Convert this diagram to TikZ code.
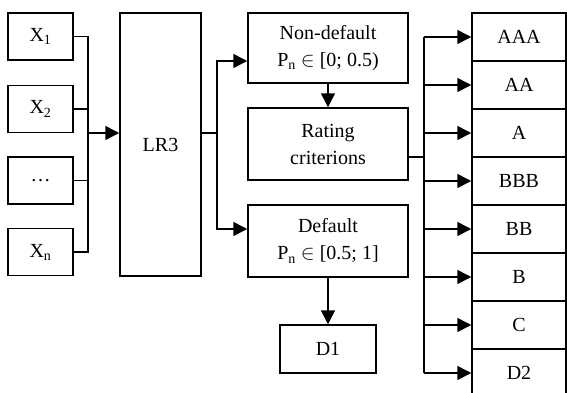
\documentclass[tikz,border=0pt]{standalone}
\usepackage{fontspec}
\setmainfont{Liberation Serif}
\usetikzlibrary{arrows.meta}
\begin{document}
\begin{tikzpicture}[x=1pt,y=-1pt,line width=1.5pt,
  font=\fontsize{20}{27}\selectfont]
	\tikzstyle{c} = [draw, shape=rectangle, anchor=center, inner sep=0pt, align=center]
	\tikzstyle{arr} = [-{Triangle[length=14pt,width=14pt]}]
  \clip (0,0) rectangle (567,392);
  % Eingaben
  \node[c, minimum width=65pt, minimum height=47pt] (x1) at (40.5,36.5) {X\textsubscript{1}};
  \node[c, minimum width=65pt, minimum height=47pt] (x2) at (40.5,109) {X\textsubscript{2}};
  \node[c, minimum width=65pt, minimum height=47pt] (xd) at (40.5,180.5) {\ldots};
  \node[c, minimum width=65pt, minimum height=47pt] (xn) at (40.5,252) {X\textsubscript{n}};
  \node[c, minimum width=81pt, minimum height=263pt] (lr3) at (160.5,144.5) {LR3};

  % Klassen
  \node[c, minimum width=160pt, minimum height=70pt] (nd) at (328,48) {Non-default\\P\textsubscript{n} $\in$ [0; 0.5)};
  \node[c, minimum width=160pt, minimum height=72pt] (rc) at (328,144) {Rating\\criterions};
  \node[c, minimum width=160pt, minimum height=72pt] (def) at (328,241) {Default\\P\textsubscript{n} $\in$ [0.5; 1]};
  \node[c, minimum width=96pt, minimum height=48pt] (d1) at (328,349) {D1};

  % Ratings
  \node[c, minimum width=94pt, minimum height=48pt] (aaa) at (519,37) {AAA};
  \node[c, minimum width=94pt, minimum height=48pt] (aa) at (519,85) {AA};
  \node[c, minimum width=94pt, minimum height=48pt] (a) at (519,133) {A};
  \node[c, minimum width=94pt, minimum height=48pt] (bbb) at (519,181) {BBB};
  \node[c, minimum width=94pt, minimum height=48pt] (bb) at (519,229) {BB};
  \node[c, minimum width=94pt, minimum height=48pt] (b) at (519,277) {B};
  \node[c, minimum width=94pt, minimum height=48pt] (cc) at (519,325) {C};
  \node[c, minimum width=94pt, minimum height=48pt] (d2) at (519,373) {D2};

  % Verbindungen
  \coordinate (jx) at (88,133);
  \coordinate (jl) at (217,133);
  \coordinate (jr) at (424,157);
  \draw (x1.east) -| (jx);
  \draw (xn.east) -| (jx);
  \draw (x2.east) -- (x2.east -| jx);
  \draw (xd.east) -- (xd.east -| jx);
  \draw[arr] (jx) -- (jx -| lr3.west);
  \draw (jl -| lr3.east) -- (jl);
  \draw[arr] (jl) |- ([yshift=-13pt]nd.west);
  \draw[arr] (jl) |- ([yshift=12pt]def.west);
  \draw[arr] (nd.south) -- (rc.north);
  \draw[arr] (def.south) -- (d1.north);
  \draw ([yshift=-13pt]rc.east) -- (jr);
  \draw (aaa.west -| jr) -- (d2.west -| jr);
  \foreach \r in {aaa,aa,a,bbb,bb,b,cc,d2}
    \draw[arr] (\r.west -| jr) -- (\r.west);
\end{tikzpicture}
\end{document}
